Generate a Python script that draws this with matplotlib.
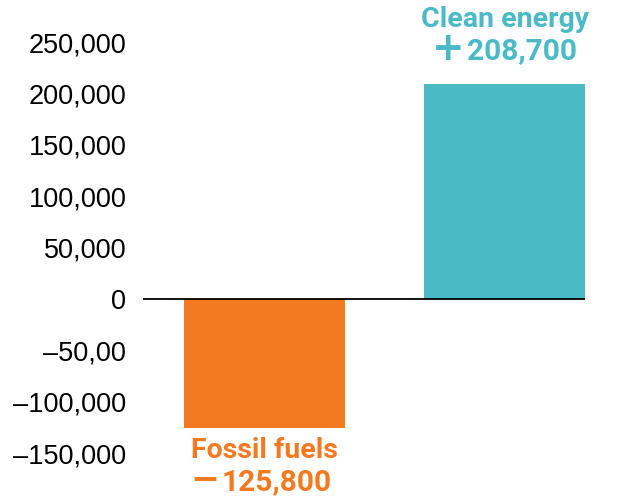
import matplotlib
matplotlib.use("Agg")
import matplotlib.pyplot as plt

categories = ["Fossil fuels", "Clean energy"]
values = [-125800, 208700]
signs = ["\u2212", "+"]
colors = ["#F47A22", "#4ABAC7"]
tick_values = [250000, 200000, 150000, 100000, 50000, 0, -50000, -100000, -150000]
tick_labels = ["250,000", "200,000", "150,000", "100,000", "50,000", "0",
               "\u201350,00", "\u2013100,000", "\u2013150,000"]

fig = plt.figure(figsize=(6.32, 4.97), dpi=100)
W, H = 632, 497
ax = fig.add_axes([143 / W, 0, (585 - 143) / W, 1])

x = [0, 1]
ax.bar(x, values, width=0.67, color=colors, zorder=2)
ax.axhline(0, color="black", lw=1.3, zorder=3)

ax.set_xlim(-0.505, 1.333)
ax.set_ylim(-192600, 290900)
ax.set_xticks([])
ax.set_yticks(tick_values)
ax.set_yticklabels(tick_labels, fontsize=19.5, family="Liberation Sans")
ax.tick_params(axis="y", length=0, pad=12)
for s in ax.spines.values():
    s.set_visible(False)

name_font = dict(family="Roboto", weight="bold", fontsize=20.5)
num_font = dict(family="Roboto", weight="bold", fontsize=21.5)
for xi, v, name, sign, c in zip(x, values, categories, signs, colors):
    if v >= 0:
        off_name, off_num, dx_num, dx_sign, sign_size = 65, 33, -38, -57, 28
    else:
        off_name, off_num, dx_num, dx_sign, sign_size = -22, -54, -43, -60, 25
    ax.annotate(name, (xi, v), xytext=(0, off_name), textcoords="offset pixels",
                ha="center", va="center", color=c, **name_font)
    ax.annotate(f"{abs(v):,}", (xi, v), xytext=(dx_num, off_num),
                textcoords="offset pixels", ha="left", va="center", color=c,
                **num_font)
    ax.annotate(sign, (xi, v), xytext=(dx_sign, off_num + 2),
                textcoords="offset pixels", ha="center", va="center", color=c,
                family="DejaVu Sans", weight="bold", fontsize=sign_size)

fig.savefig("out.png", dpi=100)
